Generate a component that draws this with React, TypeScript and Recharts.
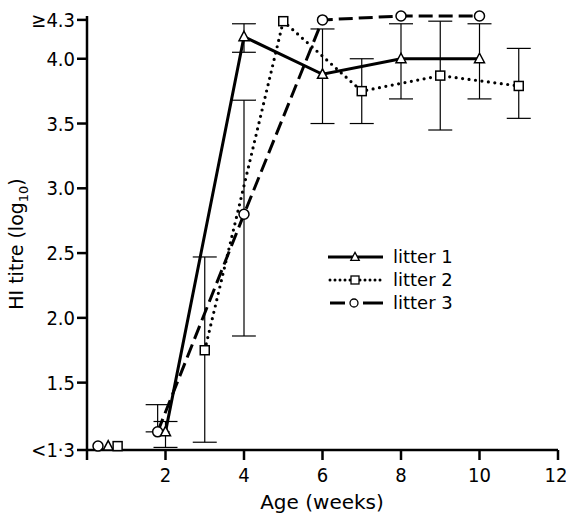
import { ComposedChart, Line, Scatter, XAxis, YAxis, ErrorBar, Legend, Label } from "recharts";

const TICK_FONT = '"Liberation Sans Narrow", "DejaVu Sans Condensed", "Arial Narrow", sans-serif';
const TEXT_FONT = '"DejaVu Sans", sans-serif';

// x = age (weeks), y = HI titre (log10), err = [below, above]
const litter1 = [
  { x: 2, y: 1.12, err: [0.12, 0.08] },
  { x: 4, y: 4.17, err: [0.12, 0.1] },
  { x: 6, y: 3.88, err: [0.38, 0.35] },
  { x: 8, y: 4.0, err: [0.31, 0.27] },
  { x: 10, y: 4.0, err: [0.31, 0.27] },
];
const litter2 = [
  { x: 3, y: 1.75, err: [0.71, 0.72] },
  { x: 5, y: 4.29 },
  { x: 7, y: 3.75, err: [0.25, 0.25] },
  { x: 9, y: 3.87, err: [0.42, 0.42] },
  { x: 11, y: 3.79, err: [0.25, 0.29] },
];
const litter3 = [
  { x: 1.8, y: 1.12, err: [0, 0.21] },
  { x: 4, y: 2.8, err: [0.94, 0.88] },
  { x: 6, y: 4.3 },
  { x: 8, y: 4.33 },
  { x: 10, y: 4.33 },
];
// titres below the detection limit (<1.3), drawn on the baseline
const below1 = [{ x: 0.54, y: 1.01 }];
const below2 = [{ x: 0.78, y: 1.01 }];
const below3 = [{ x: 0.28, y: 1.01 }];

const xTicks = [0, 2, 4, 6, 8, 10, 12];
const yTicks = [0.98, 1.5, 2, 2.5, 3, 3.5, 4, 4.3];
const legendNames = ["litter 1", "litter 2", "litter 3"];

function fmtY(v: number): string {
  if (v < 1.3) return "<1·3";
  if (v >= 4.3) return "≥4.3";
  return v.toFixed(1);
}

const tri = (cx: number, cy: number, s = 1) =>
  `M${cx},${cy - 5.5 * s} L${cx + 5 * s},${cy + 4 * s} L${cx - 5 * s},${cy + 4 * s} Z`;

const triangleDot = (p: any) => (
  <path key={`t-${p.index}`} d={tri(p.cx, p.cy)} fill="#fff" stroke="#000" strokeWidth={1.5} />
);
const squareDot = (p: any) => (
  <rect key={`s-${p.index}`} x={p.cx - 4.5} y={p.cy - 4.5} width={9} height={9} fill="#fff" stroke="#000" strokeWidth={1.5} />
);
const circleDot = (p: any) => (
  <circle key={`c-${p.index}`} cx={p.cx} cy={p.cy} r={5} fill="#fff" stroke="#000" strokeWidth={1.5} />
);

function LegendBox() {
  return (
    <div style={{ fontFamily: TEXT_FONT, fontSize: 18, color: "#000" }}>
      {legendNames.map((name, i) => (
        <div key={name} style={{ display: "flex", alignItems: "center", height: 23 }}>
          <svg width={58} height={16}>
            {i === 0 && <line x1={1} y1={8} x2={56} y2={8} stroke="#000" strokeWidth={3} />}
            {i === 1 && (
              <line x1={3} y1={8} x2={56} y2={8} stroke="#000" strokeWidth={3} strokeDasharray="0 5" strokeLinecap="round" />
            )}
            {i === 2 && (
              <g stroke="#000" strokeWidth={3}>
                <line x1={3} y1={8} x2={18} y2={8} />
                <line x1={36} y1={8} x2={56} y2={8} />
              </g>
            )}
            {i === 0 && <path d={tri(28, 8, 0.85)} fill="#fff" stroke="#000" strokeWidth={1.3} />}
            {i === 1 && <rect x={24} y={4} width={8} height={8} fill="#fff" stroke="#000" strokeWidth={1.3} />}
            {i === 2 && <circle cx={27} cy={8} r={4} fill="#fff" stroke="#000" strokeWidth={1.3} />}
          </svg>
          <span style={{ marginLeft: 8, whiteSpace: "pre" }}>{name}</span>
        </div>
      ))}
    </div>
  );
}

export default function App() {
  return (
    <div style={{ width: 566, height: 516, background: "#fff" }}>
      <style>{`body{margin:0}`}</style>
      <ComposedChart width={566} height={516} margin={{ top: 16, right: 8, bottom: 0, left: 0 }}>
        <XAxis
          dataKey="x"
          type="number"
          domain={[0, 12]}
          ticks={xTicks}
          tickFormatter={(v) => (v === 0 ? "" : String(v))}
          height={66}
          stroke="#000"
          strokeWidth={2.5}
          tickSize={10}
          tickMargin={8}
          tick={{ fill: "#000", fontSize: 20, fontFamily: TICK_FONT }}
        >
          <Label
            content={() => (
              <text x={322} y={509} textAnchor="middle" fontSize={20} fontFamily={TEXT_FONT} fill="#000">
                Age (weeks)
              </text>
            )}
          />
        </XAxis>
        <YAxis
          type="number"
          domain={[0.98, 4.33]}
          ticks={yTicks}
          tickFormatter={fmtY}
          width={87}
          stroke="#000"
          strokeWidth={2.5}
          tickSize={10}
          tickMargin={2}
          tick={{ fill: "#000", fontSize: 20, fontFamily: TICK_FONT }}
        >
          <Label
            content={() => (
              <text
                x={23}
                y={244}
                textAnchor="middle"
                transform="rotate(-90, 23, 244)"
                fontSize={19}
                fontFamily={TEXT_FONT}
                fill="#000"
              >
                HI titre (log
                <tspan fontSize={13} dy={5}>10</tspan>
                <tspan dy={-5}>)</tspan>
              </text>
            )}
          />
        </YAxis>
        <Legend
          layout="vertical"
          align="center"
          verticalAlign="middle"
          content={() => <LegendBox />}
          wrapperStyle={{ left: 327, top: 245, width: "auto" }}
        />
        <Line data={litter2} dataKey="y" type="linear" stroke="#000" strokeWidth={3.2} strokeDasharray="0 6.5"
          strokeLinecap="round" dot={squareDot} activeDot={false} isAnimationActive={false}>
          <ErrorBar dataKey="err" direction="y" width={12} stroke="#000" strokeWidth={1.2} isAnimationActive={false} />
        </Line>
        <Line data={litter3} dataKey="y" type="linear" stroke="#000" strokeWidth={3} strokeDasharray="14 6"
          dot={circleDot} activeDot={false} isAnimationActive={false}>
          <ErrorBar dataKey="err" direction="y" width={12} stroke="#000" strokeWidth={1.2} isAnimationActive={false} />
        </Line>
        <Line data={litter1} dataKey="y" type="linear" stroke="#000" strokeWidth={3}
          dot={triangleDot} activeDot={false} isAnimationActive={false}>
          <ErrorBar dataKey="err" direction="y" width={12} stroke="#000" strokeWidth={1.2} isAnimationActive={false} />
        </Line>
        <Scatter data={below3} dataKey="y" shape={circleDot} isAnimationActive={false} />
        <Scatter data={below1} dataKey="y" shape={triangleDot} isAnimationActive={false} />
        <Scatter data={below2} dataKey="y" shape={squareDot} isAnimationActive={false} />
      </ComposedChart>
    </div>
  );
}
